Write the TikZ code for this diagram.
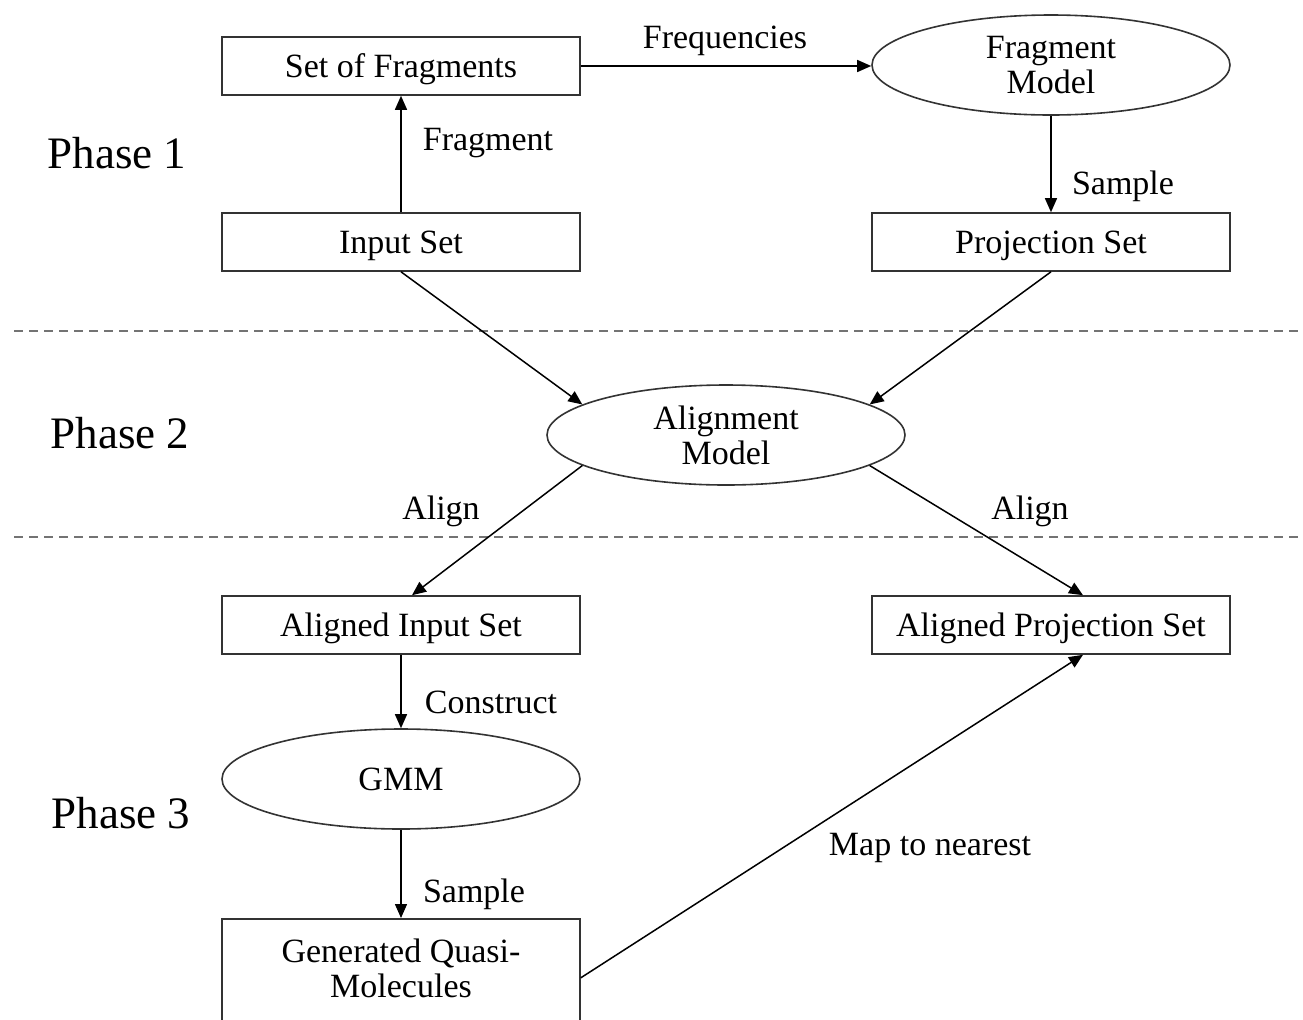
\documentclass[tikz,border=0pt]{standalone}
\usepackage{fontspec}
\setmainfont{Liberation Serif}
\usetikzlibrary{shapes.geometric,arrows.meta}
\newcommand\diafont{\fontsize{17pt}{17.5pt}\selectfont}
\begin{document}
\begin{tikzpicture}[x=0.5pt,y=-0.5pt,
  box/.style={draw=black!80, line width=0.8pt, rectangle, minimum width=179pt, minimum height=29pt, inner sep=0pt, text depth=0pt, font=\diafont},
  ell/.style={draw=black!80, line width=0.8pt, ellipse, minimum width=179pt, minimum height=50pt, inner sep=0pt, align=center, font=\diafont},
  arr/.style={line width=0.75pt, -{Triangle[length=7pt,width=6pt]}},
  lbl/.style={inner sep=0pt, font=\diafont},
  phase/.style={inner sep=0pt, font=\fontsize{22.5pt}{27pt}\selectfont},
  sep/.style={black!55, dash pattern=on 4.5pt off 3pt, line width=0.8pt}]
\useasboundingbox (0,0) rectangle (1303,1019);
\clip (0,0) rectangle (1303,1019);

% separators
\coordinate (s1a) at (14,331); \coordinate (s1b) at (1303,331);
\coordinate (s2a) at (14,537); \coordinate (s2b) at (1303,537);
\draw[sep] (s1a) -- (s1b);
\draw[sep] (s2a) -- (s2b);

% phase labels
\node[phase] (p1) at (117,153) {Phase 1};
\node[phase] (p2) at (120,433) {Phase 2};
\node[phase] (p3) at (121,813) {Phase 3};

% nodes
\node[box] (frags) at (401,66) {Set of Fragments};
\node[ell] (fmodel) at (1051,65) {Fragment\\Model};
\node[box] (ins) at (401,242) {Input Set};
\node[box] (proj) at (1051,242) {Projection Set};
\node[ell] (align) at (726,435) {Alignment\\Model};
\node[box] (ains) at (401,625) {Aligned Input Set};
\node[box] (aproj) at (1051,625) {Aligned Projection Set};
\node[ell] (gmm) at (401,779) {GMM};
\node[box, minimum height=59pt, anchor=north] (gen) at (401,918) {};
\node[lbl, align=center] (gentext) at (401,968) {Generated Quasi-\\Molecules};

% connectors
\draw[arr] (ins) -- (frags) node[lbl] at (488,143) {Fragment};
\draw[arr] (frags.east) -- (frags.east -| fmodel.west) node[lbl] at (725,41) {Frequencies};
\draw[arr] (fmodel) -- (proj) node[lbl] at (1123,186) {Sample};
\draw[arr] (ins.south) -- (align.168);
\draw[arr] (proj.south) -- (align.12);
\draw[arr] (align.192) -- ([xshift=5.5pt]ains.north) node[lbl] at (441,511) {Align};
\draw[arr] (align.348) -- ([xshift=16pt]aproj.north) node[lbl] at (1030,511) {Align};
\draw[arr] (ains) -- (gmm) node[lbl] at (491,702) {Construct};
\draw[arr] (gmm) -- (gen) node[lbl] at (474,894) {Sample};
\draw[arr] (gen.east) -- ([xshift=16pt]aproj.south) node[lbl] at (930,848) {Map to nearest};
\end{tikzpicture}
\end{document}
